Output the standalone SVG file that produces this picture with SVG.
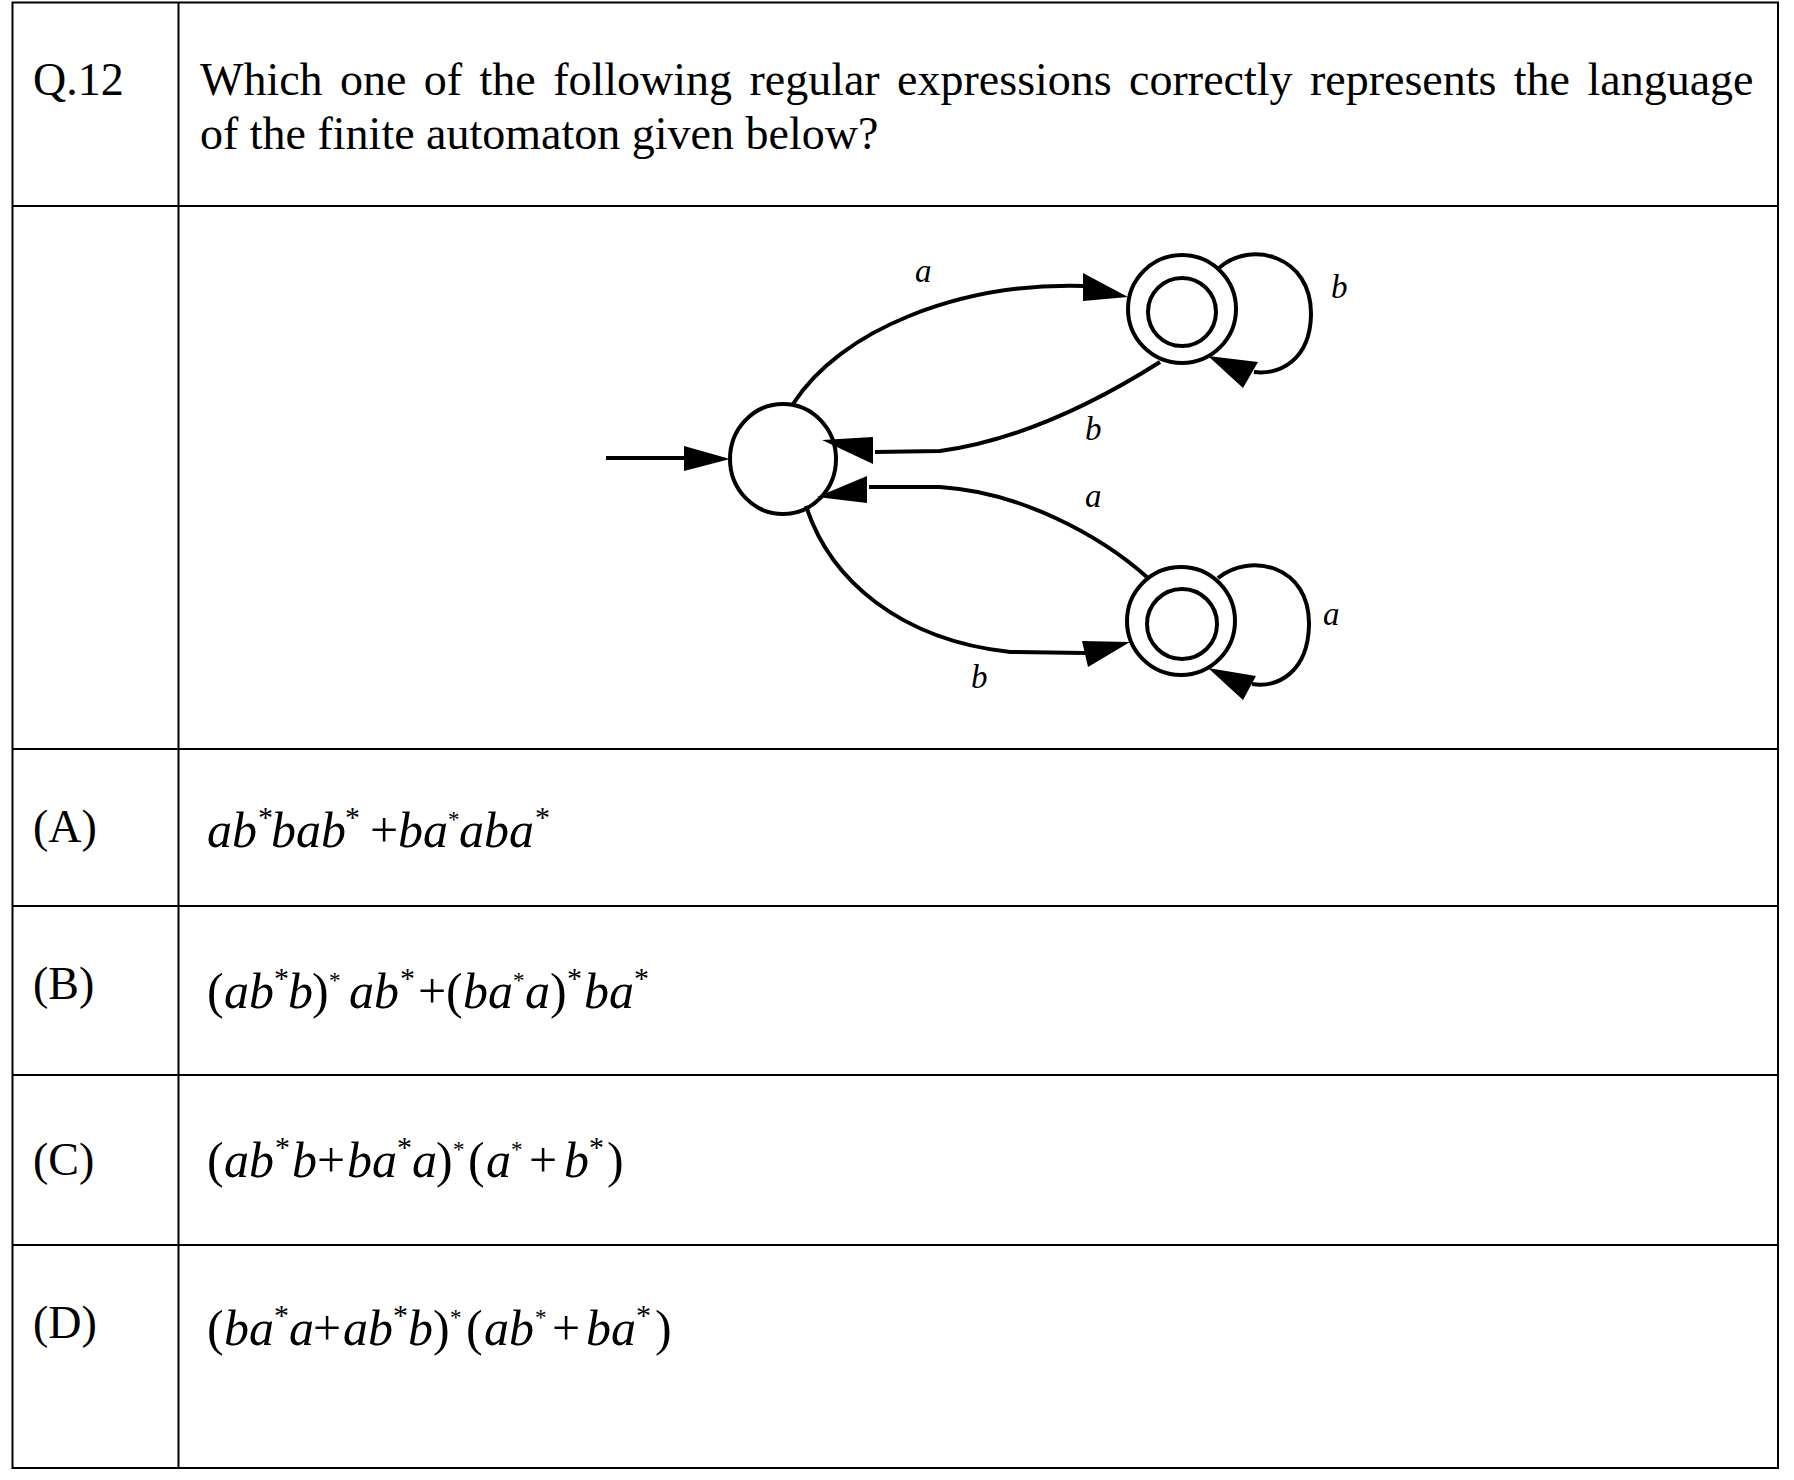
<svg xmlns="http://www.w3.org/2000/svg" width="1794" height="1480" viewBox="0 0 1794 1480">
<style>
.grid{stroke:#000;stroke-width:2;fill:none}
.t{font-family:"Liberation Serif","Times New Roman",serif;font-size:46px;fill:#000}
.f{font-family:"Liberation Serif","Times New Roman",serif;font-size:50px;fill:#000}
.v{font-style:italic}
.s{font-size:30px}
.ss{font-size:23px}
.lbl{font-family:"Liberation Serif","Times New Roman",serif;font-style:italic;font-size:33px;fill:#000}
.st{stroke:#000;stroke-width:4;fill:none}
.edge{stroke:#000;stroke-width:4;fill:none}
.ah{fill:#000;stroke:none}
</style>
<rect width="1794" height="1480" fill="#fff"/>
<g id="table">
<rect class="grid" x="12.5" y="2.5" width="1765.5" height="1465.5"/>
<line class="grid" x1="178.5" y1="2.5" x2="178.5" y2="1468"/>
<line class="grid" x1="12.5" y1="206" x2="1778" y2="206"/>
<line class="grid" x1="12.5" y1="749" x2="1778" y2="749"/>
<line class="grid" x1="12.5" y1="906" x2="1778" y2="906"/>
<line class="grid" x1="12.5" y1="1075" x2="1778" y2="1075"/>
<line class="grid" x1="12.5" y1="1245" x2="1778" y2="1245"/>
</g>
<g id="question">
<text class="t" x="33" y="95">Q.12</text>
<text class="t" x="200" y="95" word-spacing="5.9">Which one of the following regular expressions correctly represents the language</text>
<text class="t" x="200" y="149">of the finite automaton given below?</text>
</g>
<g id="connectors">
<path class="edge" d="M606 458 L690 458"/>
<polygon class="ah" points="684,446 684,471 730,459"/>
<path class="edge" d="M793 404 C840 330 960 282 1085 286"/>
<polygon class="ah" points="1083,273 1083,301 1128,297"/>
<path class="edge" d="M1160 362 C1100 400 1020 440 940 451 L875 452"/>
<polygon class="ah" points="873,437 873,464 822,440"/>
<path class="edge" d="M1148 578 C1100 535 1020 492 940 487 L869 487"/>
<polygon class="ah" points="867,476 867,503 817,497"/>
<path class="edge" d="M806 506 C830 580 900 640 1010 652 L1085 653"/>
<polygon class="ah" points="1082,641 1088,667 1130,642"/>
<path class="edge" d="M1219 268 C1250 240 1312 255 1311 315 C1310 360 1280 375 1254 372"/>
<polygon class="ah" points="1258,362 1243,388 1208,356"/>
<path class="edge" d="M1218 578 C1250 552 1310 565 1309 625 C1308 672 1278 688 1252 684"/>
<polygon class="ah" points="1256,676 1243,700 1208,668"/>
</g>
<g id="q0"><ellipse class="st" cx="783" cy="459" rx="53" ry="55"/></g>
<g id="q1"><circle class="st" cx="1182" cy="309" r="54"/><circle class="st" cx="1182" cy="312" r="34"/></g>
<g id="q2"><circle class="st" cx="1181" cy="621" r="54"/><circle class="st" cx="1182" cy="624" r="35"/></g>
<g id="edge-labels">
<text class="lbl" x="915" y="282">a</text>
<text class="lbl" x="1331" y="298">b</text>
<text class="lbl" x="1085" y="440">b</text>
<text class="lbl" x="1085" y="507">a</text>
<text class="lbl" x="1323" y="625">a</text>
<text class="lbl" x="971" y="688">b</text>
</g>
<g id="options">
<text class="t" x="33" y="842">(A)</text>
<text class="t" x="33" y="999">(B)</text>
<text class="t" x="33" y="1175">(C)</text>
<text class="t" x="33" y="1338">(D)</text>
<text class="f"><tspan class="v" x="207" y="847">ab</tspan><tspan class="s" x="258" y="827">*</tspan><tspan class="v" x="271" y="847">bab</tspan><tspan class="s" x="345" y="827">*</tspan><tspan x="370" y="847">+</tspan><tspan class="v" x="398" y="847">ba</tspan><tspan class="ss" x="448" y="827">*</tspan><tspan class="v" x="459" y="847">aba</tspan><tspan class="s" x="535" y="827">*</tspan></text>
<text class="f"><tspan x="207" y="1008">(</tspan><tspan class="v" x="224" y="1008">ab</tspan><tspan class="s" x="274" y="988">*</tspan><tspan class="v" x="288" y="1008">b</tspan><tspan x="312" y="1008">)</tspan><tspan class="ss" x="329" y="988">*</tspan><tspan class="v" x="349" y="1008">ab</tspan><tspan class="s" x="400" y="988">*</tspan><tspan x="418" y="1008">+</tspan><tspan x="446" y="1008">(</tspan><tspan class="v" x="463" y="1008">ba</tspan><tspan class="ss" x="513" y="988">*</tspan><tspan class="v" x="525" y="1008">a</tspan><tspan x="550" y="1008">)</tspan><tspan class="s" x="567" y="988">*</tspan><tspan class="v" x="584" y="1008">ba</tspan><tspan class="s" x="634" y="988">*</tspan></text>
<text class="f"><tspan x="207" y="1177">(</tspan><tspan class="v" x="224" y="1177">ab</tspan><tspan class="s" x="275" y="1157">*</tspan><tspan class="v" x="292" y="1177">b</tspan><tspan x="317" y="1177">+</tspan><tspan class="v" x="347" y="1177">ba</tspan><tspan class="s" x="397" y="1157">*</tspan><tspan class="v" x="412" y="1177">a</tspan><tspan x="436" y="1177">)</tspan><tspan class="ss" x="453" y="1157">*</tspan><tspan x="468" y="1177">(</tspan><tspan class="v" x="486" y="1177">a</tspan><tspan class="ss" x="511" y="1157">*</tspan><tspan x="529" y="1177">+</tspan><tspan class="v" x="564" y="1177">b</tspan><tspan class="s" x="589" y="1157">*</tspan><tspan x="607" y="1177">)</tspan></text>
<text class="f"><tspan x="207" y="1345">(</tspan><tspan class="v" x="224" y="1345">ba</tspan><tspan class="s" x="274" y="1325">*</tspan><tspan class="v" x="289" y="1345">a</tspan><tspan x="313" y="1345">+</tspan><tspan class="v" x="343" y="1345">ab</tspan><tspan class="s" x="393" y="1325">*</tspan><tspan class="v" x="408" y="1345">b</tspan><tspan x="433" y="1345">)</tspan><tspan class="ss" x="450" y="1325">*</tspan><tspan x="466" y="1345">(</tspan><tspan class="v" x="484" y="1345">ab</tspan><tspan class="ss" x="535" y="1325">*</tspan><tspan x="552" y="1345">+</tspan><tspan class="v" x="586" y="1345">ba</tspan><tspan class="s" x="636" y="1325">*</tspan><tspan x="655" y="1345">)</tspan></text>
</g>
</svg>
